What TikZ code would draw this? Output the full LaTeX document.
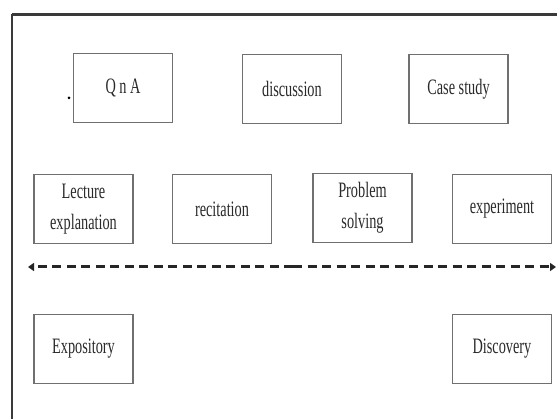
\documentclass[tikz,border=0pt]{standalone}
\usepackage{fontspec}
\setmainfont{Liberation Serif}
\newfontfamily\condserif[FakeStretch=0.65]{Liberation Serif}
\usetikzlibrary{arrows.meta}
\definecolor{boxline}{HTML}{707070}
\definecolor{framecol}{HTML}{3A3A3A}
\definecolor{txtcol}{HTML}{2A2A2A}
\tikzset{
  method/.style={draw=boxline, line width=1.6pt, minimum width=99pt, minimum height=69pt,
    inner sep=0pt, align=center, text=txtcol,
    font=\condserif\fontsize{22}{31}\selectfont},
  scale line/.style={line width=3pt, draw=black!85, dash pattern=on 9pt off 5.5pt,
    -{Triangle[length=6pt,width=8pt]}}
}
\begin{document}
\begin{tikzpicture}[x=1pt,y=-1pt]
\useasboundingbox (0,0) rectangle (557,419);
\clip (0,0) rectangle (557,419);
\fill[white] (0,0) rectangle (557,419);
% outer frame (extends past right and bottom edges)
\draw[framecol, line width=3pt] (12,14.5) -- (580,14.5);
\draw[framecol, line width=2.5pt] (12,14.5) -- (12,440);
% row 1
\node[method] (qna) at (123,88) {Q n A};
\node[method] (disc) at (292,89) {discussion};
\node[method] (case) at (458.5,89) {Case study};
\fill[black] (69,98) circle (1.5pt);
% row 2
\node[method] (lect) at (83.5,209) {Lecture\\explanation};
\node[method] (reci) at (222,209) {recitation};
\node[method] (prob) at (362.5,208) {Problem\\solving};
\node[method] (expe) at (502,209) {experiment};
% dashed double arrow
\coordinate (mid) at (293,267);
\coordinate (lend) at (28,267);
\coordinate (rend) at (556,267);
\draw[scale line] (mid) -- (lend);
\draw[scale line] (mid) -- (rend);
% row 3
\node[method] (expo) at (83.5,349) {Expository};
\node[method] (disco) at (502,349) {Discovery};
\end{tikzpicture}
\end{document}
